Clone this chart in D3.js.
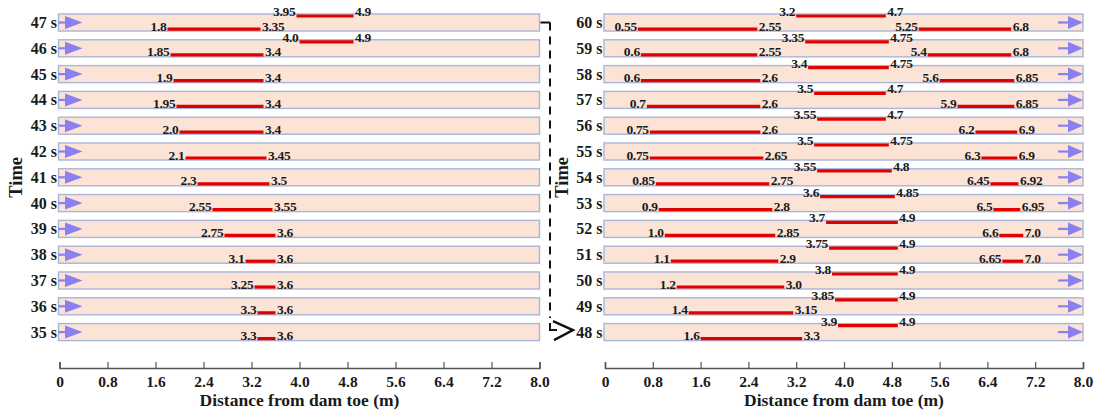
<!DOCTYPE html>
<html>
<head>
<meta charset="utf-8">
<script src="https://cdn.jsdelivr.net/npm/d3@7"></script>
<style>
  html, body { margin: 0; padding: 0; background: #fff; }
  svg { display: block; }
  text { font-family: "Liberation Serif", "Times New Roman", serif; font-weight: bold; fill: #1a1a1a; }
</style>
</head>
<body>
<svg id="chart" width="1104" height="414"></svg>
<script>
// ---------- DATA ----------
const leftTimes  = ["47 s","46 s","45 s","44 s","43 s","42 s","41 s","40 s","39 s","38 s","37 s","36 s","35 s"];
const leftLower  = [[1.8,3.35],[1.85,3.4],[1.9,3.4],[1.95,3.4],[2.0,3.4],[2.1,3.45],[2.3,3.5],[2.55,3.55],[2.75,3.6],[3.1,3.6],[3.25,3.6],[3.3,3.6],[3.3,3.6]];
const leftUpper  = [[3.95,4.9],[4.0,4.9],null,null,null,null,null,null,null,null,null,null,null];

const rightTimes  = ["60 s","59 s","58 s","57 s","56 s","55 s","54 s","53 s","52 s","51 s","50 s","49 s","48 s"];
const rightLower1 = [[0.55,2.55],[0.6,2.55],[0.6,2.6],[0.7,2.6],[0.75,2.6],[0.75,2.65],[0.85,2.75],[0.9,2.8],[1.0,2.85],[1.1,2.9],[1.2,3.0],[1.4,3.15],[1.6,3.3]];
const rightUpper  = [[3.2,4.7],[3.35,4.75],[3.4,4.75],[3.5,4.7],[3.55,4.7],[3.5,4.75],[3.55,4.8],[3.6,4.85],[3.7,4.9],[3.75,4.9],[3.8,4.9],[3.85,4.9],[3.9,4.9]];
const rightLower2 = [[5.25,6.8],[5.4,6.8],[5.6,6.85],[5.9,6.85],[6.2,6.9],[6.3,6.9],[6.45,6.92],[6.5,6.95],[6.6,7.0],[6.65,7.0],null,null,null];

const xTicks      = [0,0.8,1.6,2.4,3.2,4.0,4.8,5.6,6.4,7.2,8.0];
const xTickLabels = ["0","0.8","1.6","2.4","3.2","4.0","4.8","5.6","6.4","7.2","8.0"];
const xTitle = "Distance from dam toe (m)";
const yTitle = "Time";

// ---------- DRAW ----------
const svg = d3.select("#chart");
const RED = "#e00000", BLUE = "#8a80f2", FILL = "#fbe4d6", EDGE = "#a9b5d9";
const fmt = v => Number.isInteger(v) ? v.toFixed(1) : String(v);

function panel(cfg) {
  const x = d3.scaleLinear().domain([0, 8]).range(cfg.xr);
  const y = d3.scaleBand().domain(cfg.times).range([14, 340.6]).paddingInner(0.34).paddingOuter(0);
  const bh = y.bandwidth();
  const g = svg.append("g");

  const rows = cfg.times.map((t, i) => ({ t, i }));

  // row rectangles
  g.selectAll("rect.row").data(rows).enter().append("rect")
    .attr("x", x(0) - 1).attr("y", d => y(d.t))
    .attr("width", x(8) - x(0) + 1).attr("height", bh)
    .attr("fill", FILL).attr("stroke", EDGE).attr("stroke-width", 1.4);

  // row labels
  g.selectAll("text.rl").data(rows).enter().append("text")
    .attr("x", x(0) - 2.5).attr("y", d => y(d.t) + bh / 2 + 5.5)
    .attr("text-anchor", "end").attr("font-size", 16)
    .text(d => d.t);

  // flow arrows
  rows.forEach(d => {
    const cy = y(d.t) + bh / 2;
    let x0, x1, tip;
    if (cfg.arrow === "left") { x0 = x(0) - 1; x1 = x(0) + 5.5; tip = x(0) + 23; }
    else { x0 = x(8) - 25; x1 = x(8) - 15; tip = x(8); }
    g.append("line").attr("x1", x0).attr("x2", x1 + 1).attr("y1", cy).attr("y2", cy)
      .attr("stroke", BLUE).attr("stroke-width", 2.2);
    g.append("path").attr("d", `M${x1},${cy - 6.5}L${tip},${cy}L${x1},${cy + 6.5}Z`).attr("fill", BLUE);
  });

  // segments
  function segs(arr, pos) {
    arr.forEach((s, i) => {
      if (!s) return;
      const t = cfg.times[i];
      const yy = pos === "low" ? y(t) + bh - 2 : y(t) + 2;
      const base = pos === "low" ? y(t) + bh - 0.5 : y(t) + 2;
      g.append("line").attr("x1", x(s[0])).attr("x2", x(s[1])).attr("y1", yy).attr("y2", yy)
        .attr("stroke", RED).attr("stroke-width", 3.2);
      g.append("text").attr("x", x(s[0]) - 1).attr("y", base).attr("text-anchor", "end")
        .attr("font-size", 13.5).attr("letter-spacing", -0.3).text(fmt(s[0]));
      g.append("text").attr("x", x(s[1]) + 1.5).attr("y", base).attr("text-anchor", "start")
        .attr("font-size", 13.5).attr("letter-spacing", -0.3).text(fmt(s[1]));
    });
  }
  cfg.lower.forEach(a => segs(a, "low"));
  cfg.upper.forEach(a => segs(a, "up"));

  // x axis
  const axis = d3.axisBottom(x).tickValues(xTicks)
    .tickFormat((d, i) => xTickLabels[i]).tickSizeInner(-6).tickSizeOuter(-6).tickPadding(8);
  const ag = g.append("g").attr("transform", "translate(0,368)").call(axis);
  ag.select(".domain").attr("stroke", "#555").attr("stroke-width", 1.6);
  ag.selectAll(".tick line").attr("stroke", "#555").attr("stroke-width", 1.2);
  ag.selectAll(".tick text").attr("font-size", 15.5).attr("fill", "#1a1a1a")
    .attr("font-family", "Liberation Serif, serif").attr("font-weight", "bold");

  g.append("text").attr("x", (x(0) + x(8)) / 2).attr("y", 406)
    .attr("text-anchor", "middle").attr("font-size", 17.5).text(xTitle);

  const midRow = cfg.times[6];
  g.append("text").attr("transform", `translate(${cfg.ty},${y(midRow) + bh / 2}) rotate(-90)`)
    .attr("text-anchor", "middle").attr("font-size", 18.5).text(yTitle);

  return { x, y, bh };
}

const L = panel({ xr: [59.5, 539.5], times: leftTimes, lower: [leftLower], upper: [leftUpper], arrow: "left", ty: 22 });
const R = panel({ xr: [605, 1083], times: rightTimes, lower: [rightLower1, rightLower2], upper: [rightUpper], arrow: "right", ty: 568 });

// connector from 47 s (left) to 48 s (right)
const yTop = L.y(leftTimes[0]) + L.bh / 2;
const yBot = R.y(rightTimes[12]) + R.bh / 2;
const cx = 550;
svg.append("path").attr("d", `M${L.x(8) + 1},${yTop}H${cx}`)
  .attr("fill", "none").attr("stroke", "#111").attr("stroke-width", 2);
svg.append("path").attr("d", `M${cx},${yTop}V${yBot - 14}`)
  .attr("fill", "none").attr("stroke", "#111").attr("stroke-width", 2).attr("stroke-dasharray", "8,6");
svg.append("path").attr("d", `M${cx},${yBot - 9}V${yBot - 2}H${cx + 7}`)
  .attr("fill", "none").attr("stroke", "#111").attr("stroke-width", 2);
svg.append("path").attr("d", `M${cx + 3},${yBot - 11}L${cx + 23},${yBot - 2}L${cx + 4},${yBot + 8}`)
  .attr("fill", "none").attr("stroke", "#111").attr("stroke-width", 2.4);
</script>
</body>
</html>
